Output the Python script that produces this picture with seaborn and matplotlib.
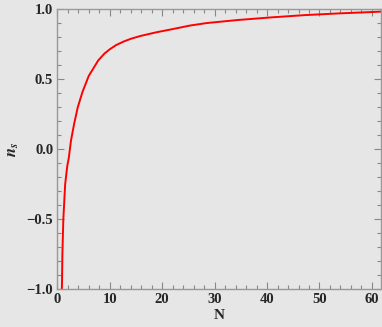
import matplotlib
matplotlib.use("Agg")
import matplotlib.pyplot as plt
from matplotlib.ticker import MultipleLocator, FuncFormatter
import seaborn as sns
import pandas as pd

# values
n_efolds = [0.8, 0.9, 0.97, 1.15, 1.5, 1.9, 2.2, 2.6, 3.2, 3.9, 4.8, 6.0, 6.9,
            7.8, 8.2, 9.0, 10.0, 11.2, 12.6, 14.0, 15.8, 18.9, 21.5, 25.3, 28.5,
            34.5, 41.0, 47.3, 53.7, 62.0]
n_s = [-1.1, -0.95, -0.75, -0.5, -0.25, -0.12, -0.06, 0.06, 0.18, 0.30, 0.41, 0.525, 0.58,
       0.635, 0.652, 0.685, 0.715, 0.745, 0.77, 0.79, 0.81, 0.837, 0.856, 0.885, 0.903,
       0.925, 0.944, 0.96, 0.972, 0.985]

df = pd.DataFrame({"N": n_efolds, "ns": n_s})

bg = "#e6e6e6"
sns.set_theme(style="ticks")
plt.rcParams["font.family"] = ["Liberation Serif", "DejaVu Serif"]
plt.rcParams["font.weight"] = "bold"
plt.rcParams["mathtext.fontset"] = "stix"

fig = plt.figure(figsize=(3.82, 3.27), dpi=100, facecolor=bg)
ax = fig.add_axes([0.150, 0.116, 0.847, 0.855])
ax.set_facecolor(bg)

sns.lineplot(data=df, x="N", y="ns", color="red", linewidth=1.4, ax=ax)

ax.set_xlim(0, 61.7)
ax.set_ylim(-1.0, 1.0)
ax.xaxis.set_major_locator(MultipleLocator(10))
ax.xaxis.set_minor_locator(MultipleLocator(2))
ax.yaxis.set_major_locator(MultipleLocator(0.5))
ax.yaxis.set_minor_locator(MultipleLocator(0.1))
ax.yaxis.set_major_formatter(FuncFormatter(lambda v, p: f"{v:.1f}".replace("-", "\u2212")))

ax.tick_params(which="both", direction="in", top=True, right=True,
               color="#888888", width=0.8)
ax.tick_params(which="major", length=5, labelsize=10.5, pad=3)
ax.tick_params(which="minor", length=3)
for s in ax.spines.values():
    s.set_color("#999999")
    s.set_linewidth(1.0)

ax.set_xlabel("N", fontsize=11, fontweight="bold", labelpad=2)
ax.set_ylabel(r"$\boldsymbol{n}_{\boldsymbol{s}}$", fontsize=12, labelpad=4)

fig.savefig("out.png", dpi=100, facecolor=bg)
